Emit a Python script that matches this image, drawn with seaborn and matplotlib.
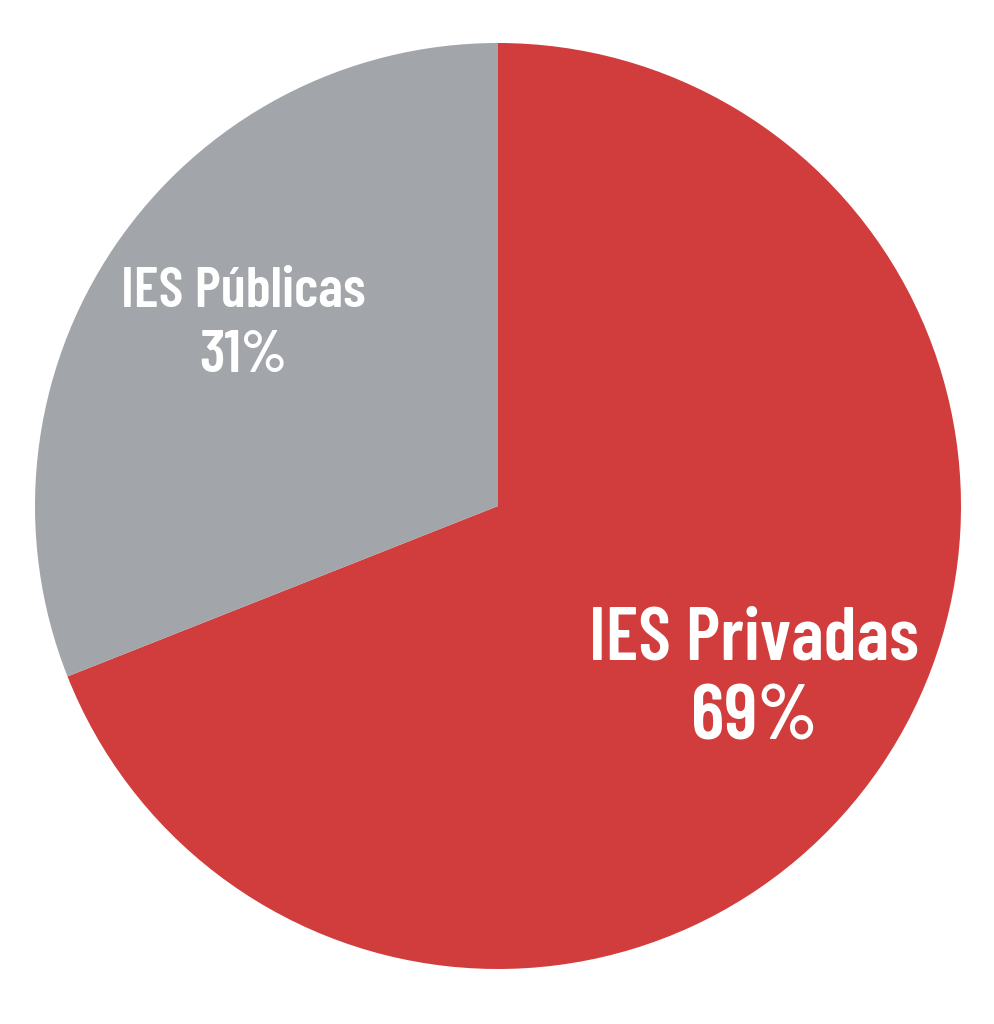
import matplotlib
matplotlib.use("Agg")
import matplotlib.pyplot as plt
import seaborn as sns

sns.set_theme(style="white")

categories = ["IES Privadas", "IES Públicas"]
values = [69, 31]
pct_labels = ["69%", "31%"]
colors = ["#D13D3C", "#A2A5A9"]

plt.rcParams["font.family"] = ["Barlow Condensed", "DejaVu Sans"]

fig = plt.figure(figsize=(9.94, 10.24), dpi=100)
cx, cy, r = 498, 506, 463
W, H = 994, 1024
ax = fig.add_axes([(cx - r) / W, (H - cy - r) / H, 2 * r / W, 2 * r / H])
ax.pie(values, colors=colors, startangle=90, counterclock=False, radius=1,
       wedgeprops=dict(linewidth=0))
ax.set_xlim(-1, 1)
ax.set_ylim(-1, 1)
ax.axis("off")

def px(x, y):
    return (x - cx) / r, (cy - y) / r

kw = dict(color="white", fontweight="semibold", ha="center", va="baseline")
x, y = px(754, 660)
ax.text(x, y, categories[0], fontsize=54, **kw)
x, y = px(754, 740)
ax.text(x, y, pct_labels[0], fontsize=56, **kw)
x, y = px(243, 307)
ax.text(x, y, categories[1], fontsize=41, **kw)
x, y = px(243, 372)
ax.text(x, y, pct_labels[1], fontsize=43, **kw)

fig.savefig("out.png", dpi=100, facecolor="white")
